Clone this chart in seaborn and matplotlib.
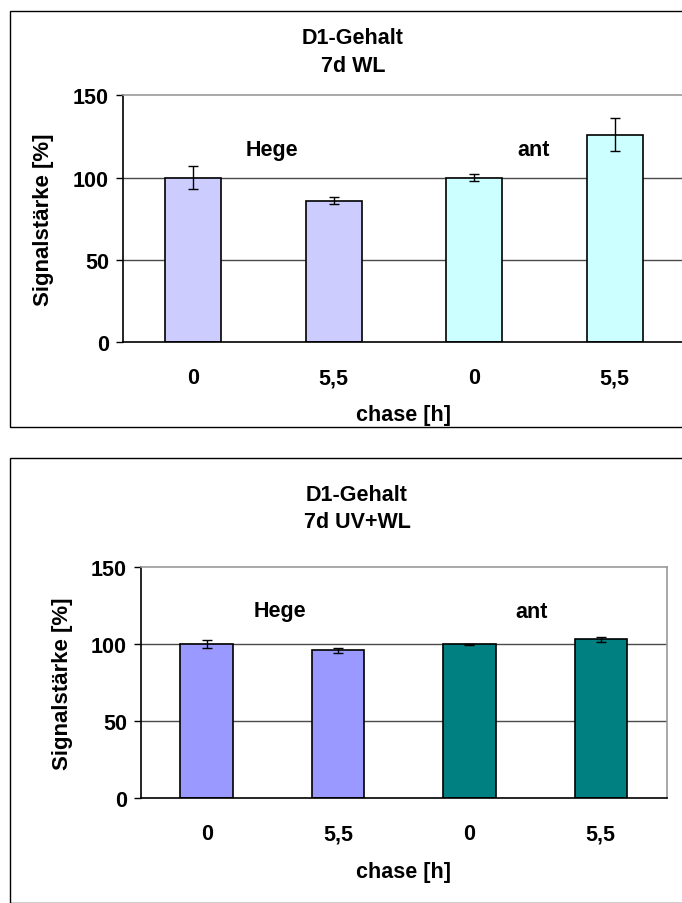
import pandas as pd
import seaborn as sns
import matplotlib.pyplot as plt
from matplotlib.patches import Rectangle
from matplotlib.ticker import FixedLocator

# data
conditions = ["Hege 0", "Hege 5,5", "ant 0", "ant 5,5"]
groups = ["Hege", "Hege", "ant", "ant"]
tick_labels = ["0", "5,5", "0", "5,5"]

wl_values = [100, 86, 100, 126]
wl_errors = [7, 2, 2, 10]

uvwl_values = [100, 96, 100, 103.3]
uvwl_errors = [2.5, 1.7, 0.5, 1.6]

wl_colors = {"Hege": "#CCCCFF", "ant": "#CCFFFF"}
uvwl_colors = {"Hege": "#9999FF", "ant": "#008080"}

sns.set_style("white")
plt.rcParams["font.family"] = ["Liberation Sans", "DejaVu Sans"]
plt.rcParams["font.weight"] = "bold"
plt.rcParams["axes.labelweight"] = "bold"
plt.rcParams["text.color"] = "black"
plt.rcParams["axes.labelcolor"] = "black"
plt.rcParams["xtick.color"] = "black"
plt.rcParams["ytick.color"] = "black"

FS = 15.5
W, H = 682, 904
fig = plt.figure(figsize=(W / 100, H / 100), dpi=100)


def px_axes(left, top, right, bottom):
    return fig.add_axes([left / W, 1 - bottom / H, (right - left) / W, (bottom - top) / H])


def draw_panel(ax, values, errors, colors, label_pos):
    df = pd.DataFrame({"cond": conditions, "group": groups, "val": values})
    sns.barplot(data=df, x="cond", y="val", hue="group", palette=colors,
                dodge=False, width=0.4, edgecolor="black", linewidth=1.2,
                legend=False, ax=ax, order=conditions, saturation=1)
    ax.errorbar(range(len(values)), values, yerr=errors, fmt="none",
                ecolor="black", elinewidth=1, capsize=3.5, capthick=1, zorder=5)

    ax.set_xlim(-0.5, 3.5)
    ax.set_ylim(0, 150)
    ax.set_yticks([0, 50, 100, 150])
    ax.set_yticklabels(["0", "50", "100", "150"], fontsize=FS, fontweight="bold")
    ax.set_xticks(range(4))
    ax.set_xticklabels(tick_labels, fontsize=FS, fontweight="bold")
    ax.xaxis.set_minor_locator(FixedLocator([-0.5, 0.5, 1.5, 2.5, 3.5]))
    ax.tick_params(axis="x", which="major", length=0, pad=18)
    ax.tick_params(axis="x", which="minor", length=6, width=1, color="black", direction="out")
    ax.tick_params(axis="y", length=5, width=1, color="black", direction="out", pad=5, left=True)

    for y in [50, 100]:
        ax.axhline(y, color="#4a4a4a", lw=1, zorder=0)

    ax.spines["left"].set_color("black")
    ax.spines["bottom"].set_color("black")
    ax.spines["top"].set_color("#999999")
    ax.spines["right"].set_color("#999999")
    for s in ax.spines.values():
        s.set_linewidth(1.2)

    ax.set_ylabel("Signalstärke [%]", fontsize=16, fontweight="bold")
    ax.set_xlabel("chase [h]", fontsize=FS, fontweight="bold")

    for name, (x, y) in label_pos.items():
        ax.text(x, y, name, ha="center", va="center", fontsize=FS, fontweight="bold")
    return ax


def title(x, y1, y2, line1, line2):
    fig.text(x / W, 1 - y1 / H, line1, ha="center", va="center", fontsize=FS, fontweight="bold")
    fig.text(x / W, 1 - y2 / H, line2, ha="center", va="center", fontsize=FS, fontweight="bold")


# top panel: 7d WL
fig.add_artist(Rectangle((9.5 / W, 1 - 428 / H), 1.0, (428 - 12) / H,
                         transform=fig.transFigure, fill=False, edgecolor="black", lw=1))
ax1 = px_axes(123, 96.3, 685, 343)
draw_panel(ax1, wl_values, wl_errors, wl_colors,
           {"Hege": (0.56, 117), "ant": (2.42, 117)})
ax1.yaxis.set_label_coords(-0.123, 0.5)
ax1.xaxis.set_label_coords(0.5, -0.25)
title(353, 38, 66, "D1-Gehalt", "7d WL")

# bottom panel: 7d UV+WL
fig.add_artist(Rectangle((9.5 / W, 0), 1.0, 1 - 468 / H + 0.01,
                         transform=fig.transFigure, fill=False, edgecolor="black", lw=1))
ax2 = px_axes(141, 568.3, 666.5, 799.3)
draw_panel(ax2, uvwl_values, uvwl_errors, uvwl_colors,
           {"Hege": (0.555, 122), "ant": (2.47, 121)})
ax2.yaxis.set_label_coords(-0.129, 0.5)
ax2.xaxis.set_label_coords(0.5, -0.27)
title(357, 496, 523, "D1-Gehalt", "7d UV+WL")

fig.savefig("out.png", dpi=100)
